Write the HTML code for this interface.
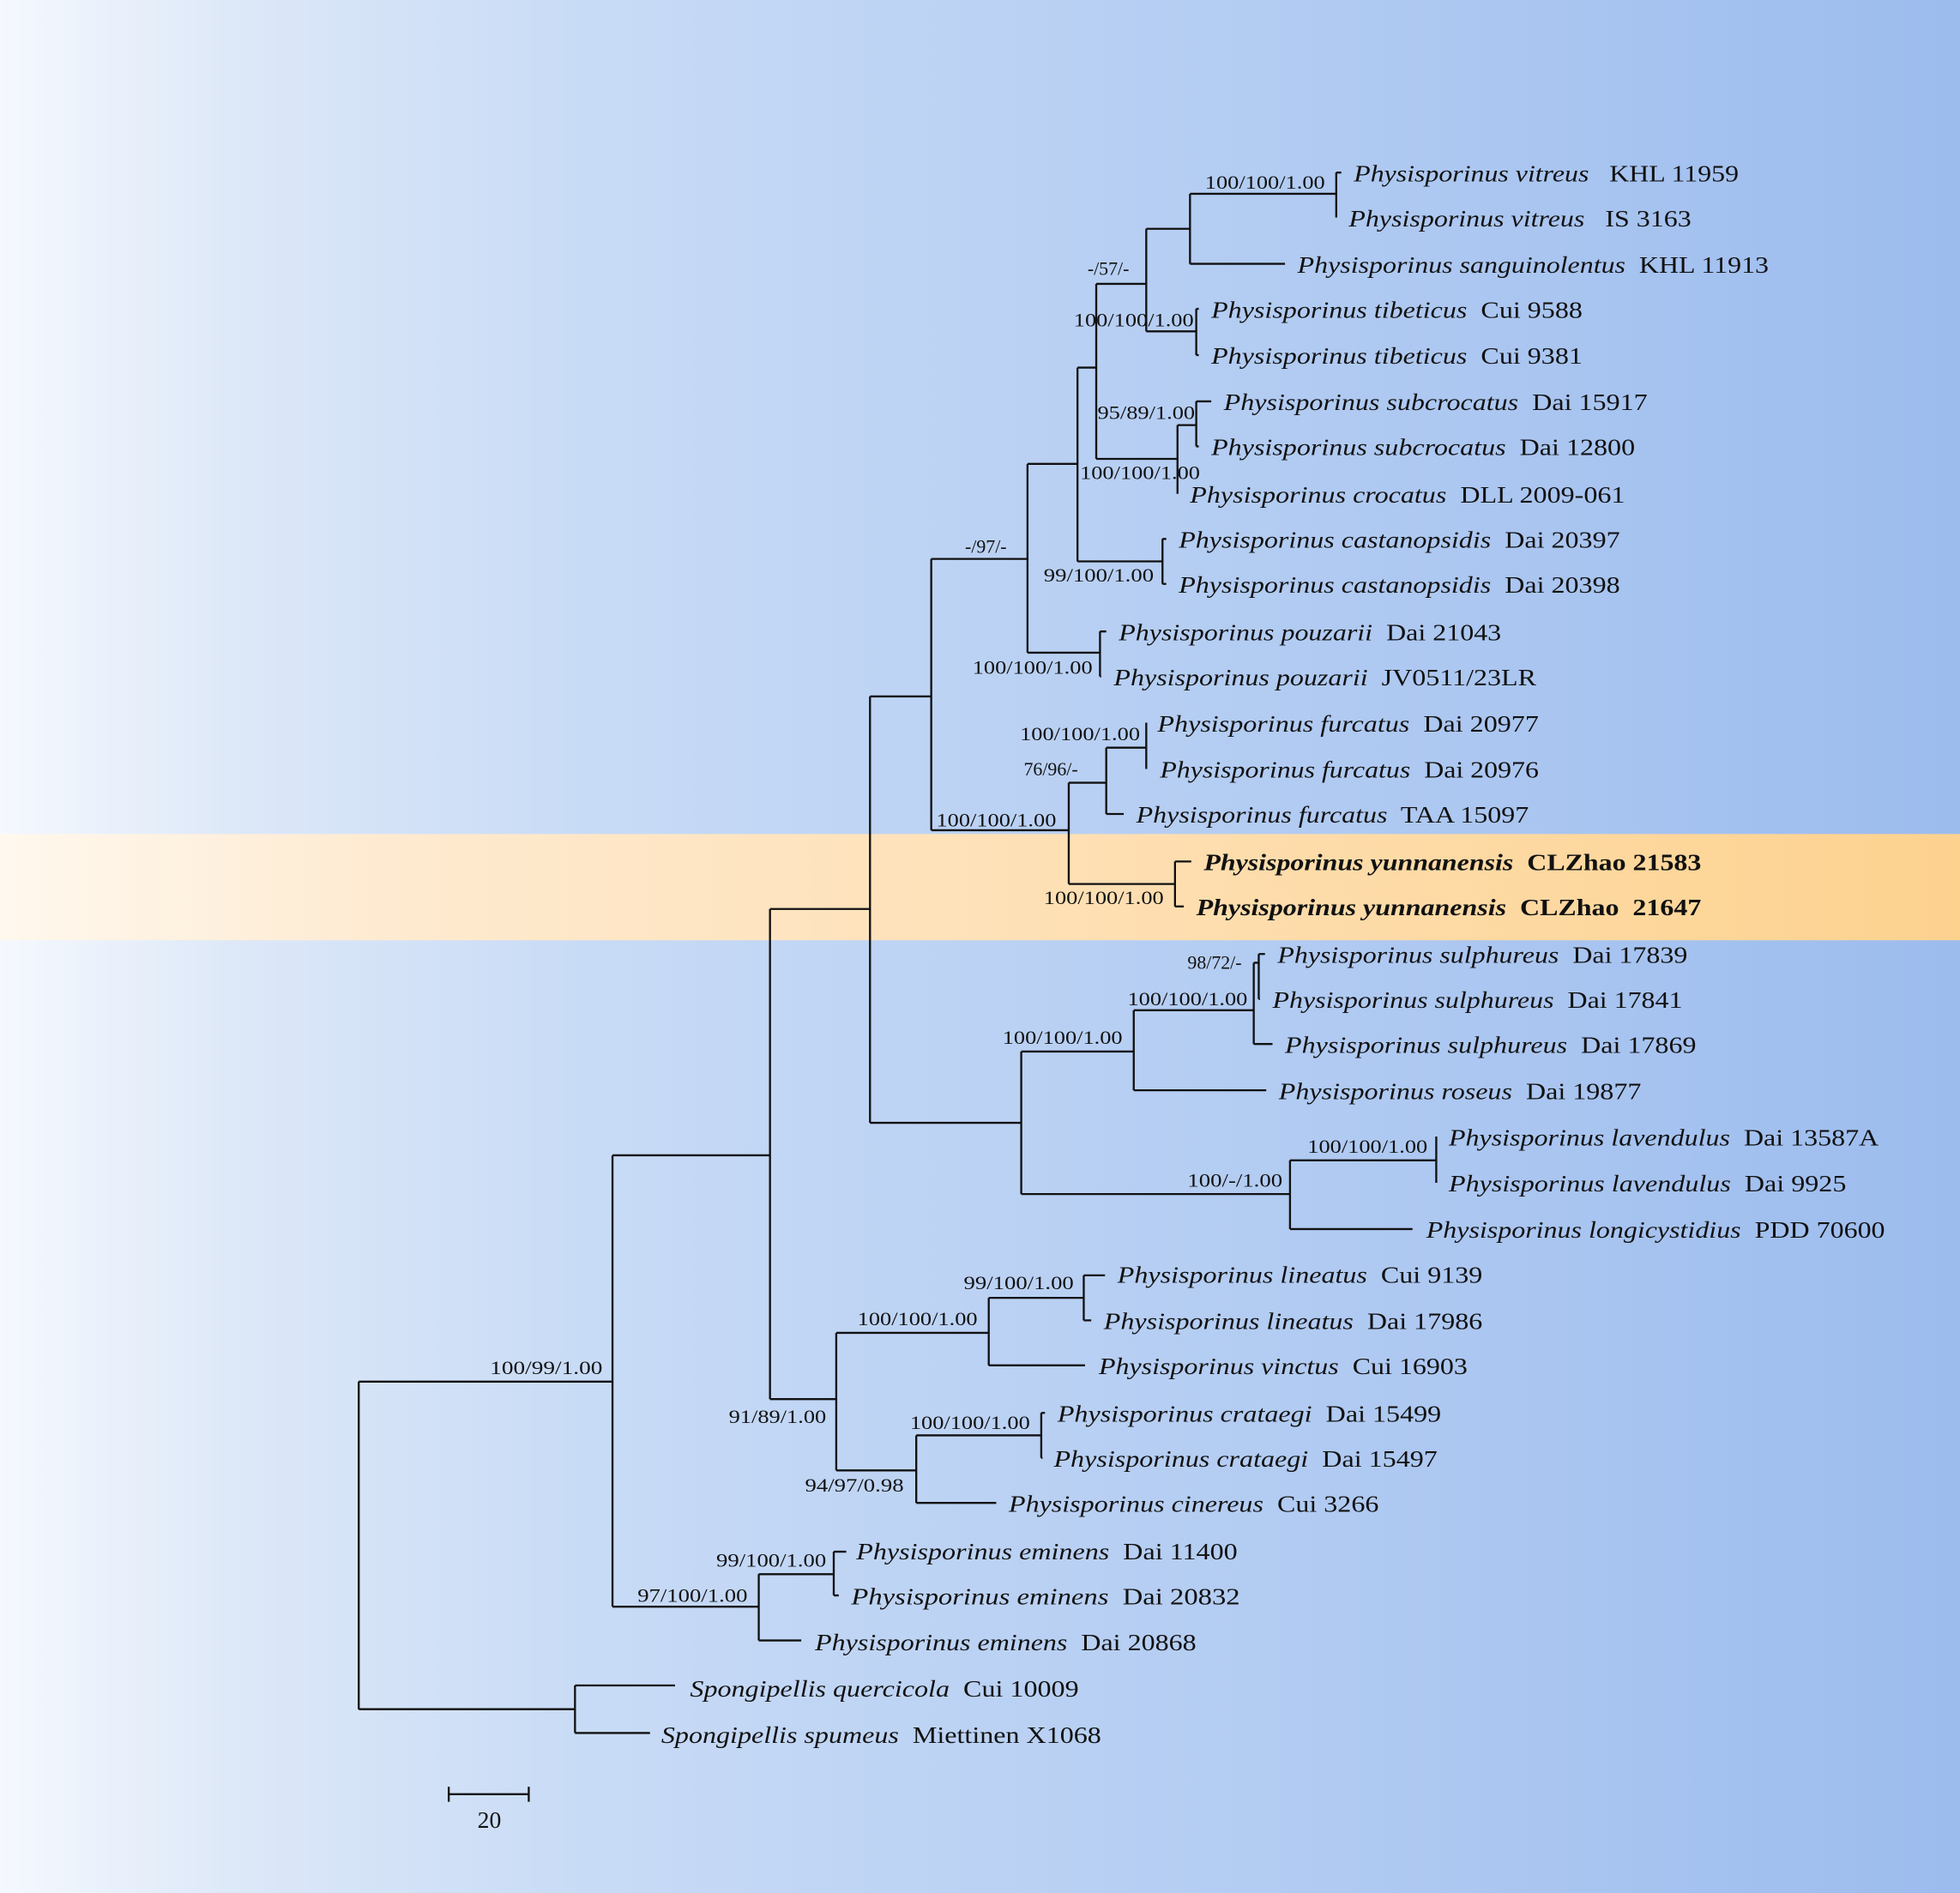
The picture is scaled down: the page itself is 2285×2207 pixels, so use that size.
<!DOCTYPE html>
<html><head><meta charset="utf-8"><style>
html,body{margin:0;padding:0;}
svg{display:block;}
text{font-family:"Liberation Serif",serif;fill:#111;white-space:pre;}
.t{font-size:19px;}
.l{font-size:15px;}
</style></head><body>
<svg width="2285" height="2207" viewBox="0 0 1568 1514" preserveAspectRatio="none" xmlns="http://www.w3.org/2000/svg">
<defs>
<linearGradient id="bg" x1="0" x2="1" y1="0" y2="0">
<stop offset="0" stop-color="#f5f8fe"/>
<stop offset="0.12" stop-color="#dde8f8"/>
<stop offset="0.3" stop-color="#c8dbf6"/>
<stop offset="1" stop-color="#9cbcee"/>
</linearGradient>
<linearGradient id="band" x1="0" x2="1" y1="0" y2="0">
<stop offset="0" stop-color="#fff8ee"/>
<stop offset="0.2" stop-color="#feead0"/>
<stop offset="1" stop-color="#fdd28f"/>
</linearGradient>
</defs>
<rect x="0" y="0" width="1568" height="1514" fill="url(#bg)"/>
<rect x="0" y="667" width="1568" height="85" fill="url(#band)"/>
<g stroke="#111" stroke-width="1.6" fill="none">
<path d="M287 1105V1367M287 1105H490M287 1367H460"/>
<path d="M460 1348V1386M460 1348H540M460 1386H520"/>
<path d="M490 924V1285M490 924H616M490 1285H607"/>
<path d="M607 1259V1312M607 1259H667M607 1312H641"/>
<path d="M667 1241V1276M667 1241H677M667 1276H671"/>
<path d="M616 727V1119M616 727H696M616 1119H669"/>
<path d="M669 1066V1176M669 1066H791M669 1176H733"/>
<path d="M791 1038V1092M791 1038H867M791 1092H868"/>
<path d="M867 1020V1056M867 1020H884M867 1056H873"/>
<path d="M733 1148V1202M733 1148H833M733 1202H797"/>
<path d="M833 1130V1166M833 1130H836M833 1166H834"/>
<path d="M696 557V898M696 557H745M696 898H817"/>
<path d="M817 841V955M817 841H907M817 955H1032"/>
<path d="M907 808V872M907 808H1003M907 872H1013"/>
<path d="M1003 770V835M1003 770H1007M1003 835H1018"/>
<path d="M1007 763V799M1007 763H1012M1007 799H1008"/>
<path d="M1032 928V983M1032 928H1149M1032 983H1130"/>
<path d="M1149 909V946"/>
<path d="M745 447V664M745 447H822M745 664H855"/>
<path d="M855 626V707M855 626H885M855 707H940"/>
<path d="M885 598V651M885 598H917M885 651H899"/>
<path d="M917 578V615"/>
<path d="M940 689V725M940 689H953M940 725H947"/>
<path d="M822 371V522M822 371H862M822 522H880"/>
<path d="M880 505V541M880 505H885M880 541H881"/>
<path d="M862 294V449M862 294H877M862 449H930"/>
<path d="M930 431V467M930 431H933M930 467H933"/>
<path d="M877 227V367M877 227H917M877 367H942"/>
<path d="M942 340V395M942 340H957"/>
<path d="M957 321V357M957 321H969M957 357H959"/>
<path d="M917 183V265M917 183H952M917 265H957"/>
<path d="M957 247V284M957 247H959M957 284H959"/>
<path d="M952 155V211M952 155H1069M952 211H1028"/>
<path d="M1069 138V174M1069 138H1073"/>
<path d="M359 1435H423M359 1429V1441M423 1429V1441"/>
</g>
<g class="t">
<text x="1083" y="145" textLength="308" lengthAdjust="spacingAndGlyphs"><tspan font-style="italic">Physisporinus vitreus</tspan>   KHL 11959</text>
<text x="1079" y="181" textLength="274" lengthAdjust="spacingAndGlyphs"><tspan font-style="italic">Physisporinus vitreus</tspan>   IS 3163</text>
<text x="1038" y="218" textLength="377" lengthAdjust="spacingAndGlyphs"><tspan font-style="italic">Physisporinus sanguinolentus</tspan>  KHL 11913</text>
<text x="969" y="254" textLength="297" lengthAdjust="spacingAndGlyphs"><tspan font-style="italic">Physisporinus tibeticus</tspan>  Cui 9588</text>
<text x="969" y="291" textLength="297" lengthAdjust="spacingAndGlyphs"><tspan font-style="italic">Physisporinus tibeticus</tspan>  Cui 9381</text>
<text x="979" y="328" textLength="339" lengthAdjust="spacingAndGlyphs"><tspan font-style="italic">Physisporinus subcrocatus</tspan>  Dai 15917</text>
<text x="969" y="364" textLength="339" lengthAdjust="spacingAndGlyphs"><tspan font-style="italic">Physisporinus subcrocatus</tspan>  Dai 12800</text>
<text x="952" y="402" textLength="348" lengthAdjust="spacingAndGlyphs"><tspan font-style="italic">Physisporinus crocatus</tspan>  DLL 2009-061</text>
<text x="943" y="438" textLength="353" lengthAdjust="spacingAndGlyphs"><tspan font-style="italic">Physisporinus castanopsidis</tspan>  Dai 20397</text>
<text x="943" y="474" textLength="353" lengthAdjust="spacingAndGlyphs"><tspan font-style="italic">Physisporinus castanopsidis</tspan>  Dai 20398</text>
<text x="895" y="512" textLength="306" lengthAdjust="spacingAndGlyphs"><tspan font-style="italic">Physisporinus pouzarii</tspan>  Dai 21043</text>
<text x="891" y="548" textLength="338" lengthAdjust="spacingAndGlyphs"><tspan font-style="italic">Physisporinus pouzarii</tspan>  JV0511/23LR</text>
<text x="926" y="585" textLength="305" lengthAdjust="spacingAndGlyphs"><tspan font-style="italic">Physisporinus furcatus</tspan>  Dai 20977</text>
<text x="928" y="622" textLength="303" lengthAdjust="spacingAndGlyphs"><tspan font-style="italic">Physisporinus furcatus</tspan>  Dai 20976</text>
<text x="909" y="658" textLength="314" lengthAdjust="spacingAndGlyphs"><tspan font-style="italic">Physisporinus furcatus</tspan>  TAA 15097</text>
<text x="963" y="696" font-weight="bold" textLength="398" lengthAdjust="spacingAndGlyphs"><tspan font-style="italic">Physisporinus yunnanensis</tspan>  CLZhao 21583</text>
<text x="957" y="732" font-weight="bold" textLength="404" lengthAdjust="spacingAndGlyphs"><tspan font-style="italic">Physisporinus yunnanensis</tspan>  CLZhao  21647</text>
<text x="1022" y="770" textLength="328" lengthAdjust="spacingAndGlyphs"><tspan font-style="italic">Physisporinus sulphureus</tspan>  Dai 17839</text>
<text x="1018" y="806" textLength="328" lengthAdjust="spacingAndGlyphs"><tspan font-style="italic">Physisporinus sulphureus</tspan>  Dai 17841</text>
<text x="1028" y="842" textLength="329" lengthAdjust="spacingAndGlyphs"><tspan font-style="italic">Physisporinus sulphureus</tspan>  Dai 17869</text>
<text x="1023" y="879" textLength="290" lengthAdjust="spacingAndGlyphs"><tspan font-style="italic">Physisporinus roseus</tspan>  Dai 19877</text>
<text x="1159" y="916" textLength="344" lengthAdjust="spacingAndGlyphs"><tspan font-style="italic">Physisporinus lavendulus</tspan>  Dai 13587A</text>
<text x="1159" y="953" textLength="318" lengthAdjust="spacingAndGlyphs"><tspan font-style="italic">Physisporinus lavendulus</tspan>  Dai 9925</text>
<text x="1141" y="990" textLength="367" lengthAdjust="spacingAndGlyphs"><tspan font-style="italic">Physisporinus longicystidius</tspan>  PDD 70600</text>
<text x="894" y="1026" textLength="292" lengthAdjust="spacingAndGlyphs"><tspan font-style="italic">Physisporinus lineatus</tspan>  Cui 9139</text>
<text x="883" y="1063" textLength="303" lengthAdjust="spacingAndGlyphs"><tspan font-style="italic">Physisporinus lineatus</tspan>  Dai 17986</text>
<text x="879" y="1099" textLength="295" lengthAdjust="spacingAndGlyphs"><tspan font-style="italic">Physisporinus vinctus</tspan>  Cui 16903</text>
<text x="846" y="1137" textLength="307" lengthAdjust="spacingAndGlyphs"><tspan font-style="italic">Physisporinus crataegi</tspan>  Dai 15499</text>
<text x="843" y="1173" textLength="307" lengthAdjust="spacingAndGlyphs"><tspan font-style="italic">Physisporinus crataegi</tspan>  Dai 15497</text>
<text x="807" y="1209" textLength="296" lengthAdjust="spacingAndGlyphs"><tspan font-style="italic">Physisporinus cinereus</tspan>  Cui 3266</text>
<text x="685" y="1247" textLength="305" lengthAdjust="spacingAndGlyphs"><tspan font-style="italic">Physisporinus eminens</tspan>  Dai 11400</text>
<text x="681" y="1283" textLength="311" lengthAdjust="spacingAndGlyphs"><tspan font-style="italic">Physisporinus eminens</tspan>  Dai 20832</text>
<text x="652" y="1320" textLength="305" lengthAdjust="spacingAndGlyphs"><tspan font-style="italic">Physisporinus eminens</tspan>  Dai 20868</text>
<text x="552" y="1357" textLength="311" lengthAdjust="spacingAndGlyphs"><tspan font-style="italic">Spongipellis quercicola</tspan>  Cui 10009</text>
<text x="529" y="1394" textLength="352" lengthAdjust="spacingAndGlyphs"><tspan font-style="italic">Spongipellis spumeus</tspan>  Miettinen X1068</text>
<text x="382" y="1462">20</text>
</g>
<g class="l">
<text x="964" y="151" textLength="96" lengthAdjust="spacingAndGlyphs">100/100/1.00</text>
<text x="870" y="220">-/57/-</text>
<text x="859" y="261" textLength="96" lengthAdjust="spacingAndGlyphs">100/100/1.00</text>
<text x="878" y="335" textLength="78" lengthAdjust="spacingAndGlyphs">95/89/1.00</text>
<text x="864" y="383" textLength="96" lengthAdjust="spacingAndGlyphs">100/100/1.00</text>
<text x="772" y="442">-/97/-</text>
<text x="835" y="465" textLength="88" lengthAdjust="spacingAndGlyphs">99/100/1.00</text>
<text x="778" y="539" textLength="96" lengthAdjust="spacingAndGlyphs">100/100/1.00</text>
<text x="816" y="592" textLength="96" lengthAdjust="spacingAndGlyphs">100/100/1.00</text>
<text x="819" y="620">76/96/-</text>
<text x="749" y="661" textLength="96" lengthAdjust="spacingAndGlyphs">100/100/1.00</text>
<text x="835" y="723" textLength="96" lengthAdjust="spacingAndGlyphs">100/100/1.00</text>
<text x="950" y="775">98/72/-</text>
<text x="902" y="804" textLength="96" lengthAdjust="spacingAndGlyphs">100/100/1.00</text>
<text x="802" y="835" textLength="96" lengthAdjust="spacingAndGlyphs">100/100/1.00</text>
<text x="1046" y="922" textLength="96" lengthAdjust="spacingAndGlyphs">100/100/1.00</text>
<text x="950" y="949" textLength="76" lengthAdjust="spacingAndGlyphs">100/-/1.00</text>
<text x="771" y="1031" textLength="88" lengthAdjust="spacingAndGlyphs">99/100/1.00</text>
<text x="686" y="1060" textLength="96" lengthAdjust="spacingAndGlyphs">100/100/1.00</text>
<text x="392" y="1099" textLength="90" lengthAdjust="spacingAndGlyphs">100/99/1.00</text>
<text x="583" y="1138" textLength="78" lengthAdjust="spacingAndGlyphs">91/89/1.00</text>
<text x="728" y="1143" textLength="96" lengthAdjust="spacingAndGlyphs">100/100/1.00</text>
<text x="644" y="1193" textLength="79" lengthAdjust="spacingAndGlyphs">94/97/0.98</text>
<text x="573" y="1253" textLength="88" lengthAdjust="spacingAndGlyphs">99/100/1.00</text>
<text x="510" y="1281" textLength="88" lengthAdjust="spacingAndGlyphs">97/100/1.00</text>
</g>
</svg>
</body></html>
